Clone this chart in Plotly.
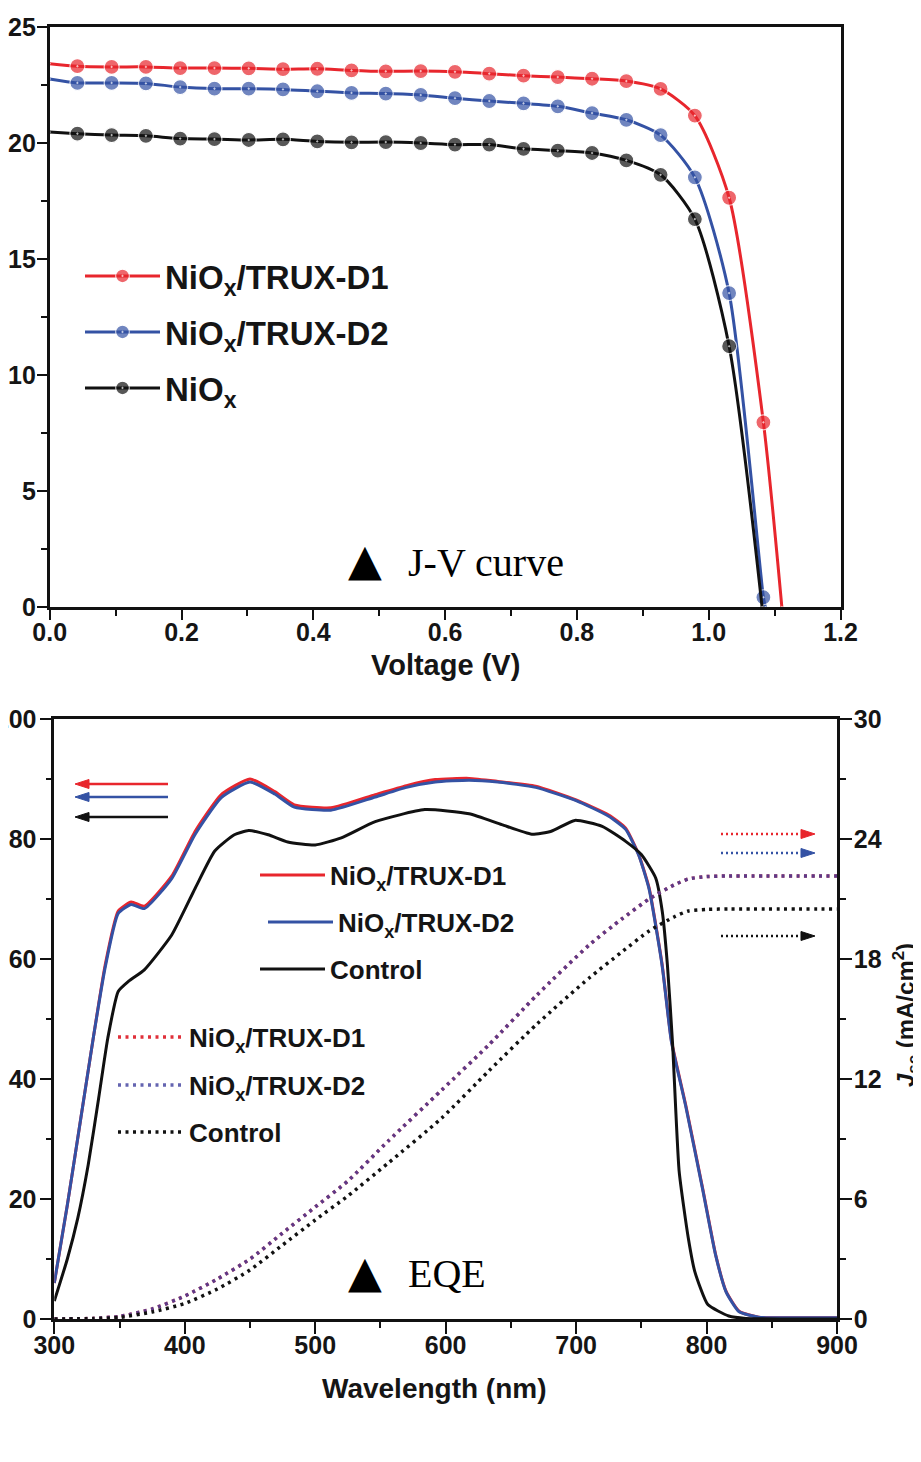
import plotly.graph_objects as go

W, H = 921, 1462

# ---------------- J-V curve data ----------------
JV_V_D1 = [0.000, 0.042, 0.094, 0.146, 0.198, 0.250, 0.302, 0.354, 0.406, 0.458, 0.510, 0.563,
           0.615, 0.667, 0.719, 0.771, 0.823, 0.875, 0.927, 0.979, 1.031, 1.083, 1.111]
JV_J_D1 = [23.42, 23.31, 23.28, 23.28, 23.23, 23.23, 23.22, 23.18, 23.20, 23.13, 23.09, 23.10,
           23.07, 22.99, 22.90, 22.84, 22.77, 22.67, 22.33, 21.18, 17.64, 7.96, 0.0]
JV_V_D2 = [0.000, 0.042, 0.094, 0.146, 0.198, 0.250, 0.302, 0.354, 0.406, 0.458, 0.510, 0.563,
           0.615, 0.667, 0.719, 0.771, 0.823, 0.875, 0.927, 0.979, 1.031, 1.083, 1.086]
JV_J_D2 = [22.76, 22.59, 22.59, 22.57, 22.41, 22.34, 22.34, 22.31, 22.23, 22.16, 22.13, 22.07,
           21.93, 21.81, 21.71, 21.58, 21.29, 21.00, 20.34, 18.52, 13.53, 0.42, 0.0]
JV_V_CTRL = [0.000, 0.042, 0.094, 0.146, 0.198, 0.250, 0.302, 0.354, 0.406, 0.458, 0.510, 0.563,
             0.615, 0.667, 0.719, 0.771, 0.823, 0.875, 0.927, 0.979, 1.031, 1.081]
JV_J_CTRL = [20.47, 20.40, 20.34, 20.31, 20.19, 20.17, 20.13, 20.16, 20.07, 20.03, 20.04, 20.00,
             19.93, 19.93, 19.75, 19.67, 19.57, 19.25, 18.63, 16.72, 11.24, 0.0]

# ---------------- EQE data ----------------
WL_D1 = [300, 310, 320, 330, 339, 349, 359, 369, 390, 408, 428, 450, 469, 484, 512, 546, 570, 592,
         618, 640, 669, 700, 725, 738, 748, 756, 766, 773, 784, 797, 807, 815, 825, 840, 870, 900]
EQE_D1 = [6, 19, 33, 47, 59, 68, 69.5, 68.8, 73.8, 81.3, 87.4, 90.0, 87.9, 85.7, 85.2, 87.4, 88.9, 89.9,
          90.1, 89.6, 88.8, 86.5, 84.0, 81.8, 77.4, 71.8, 59.0, 46.5, 35.7, 21.8, 10.7, 4.6, 1.3, 0.3, 0.2, 0.2]
WL_D2 = WL_D1
EQE_D2 = [6, 19, 33, 47, 58.6, 67.6, 69.1, 68.4, 73.4, 80.8, 86.9, 89.5, 87.5, 85.3, 84.8, 87.0, 88.6, 89.5,
          89.8, 89.5, 88.6, 86.4, 83.8, 81.6, 77.3, 71.6, 58.8, 46.3, 35.5, 21.6, 10.6, 4.5, 1.2, 0.3, 0.2, 0.2]
WL_CTRL = [300, 310, 318, 326, 334, 341, 349, 357, 369, 390, 408, 423, 438, 449, 464, 479, 500, 520, 546,
           584, 618, 643, 666, 681, 699, 720, 738, 750, 761, 766, 770, 774, 779, 786, 791, 801, 817, 830, 900]
EQE_CTRL = [3, 10, 16.8, 25.7, 36.8, 46.8, 54.6, 56.3, 58.2, 64, 71.8, 78, 80.7, 81.4, 80.7, 79.5, 79, 80.2, 82.9,
            84.9, 84.2, 82.4, 80.8, 81.3, 83.1, 82.1, 79.6, 77.4, 73.5, 68, 59, 45.7, 24.6, 13.5, 7.9, 2.4, 0.5, 0.1, 0]

# integrated Jsc (right axis)
WL_J = [300, 330, 350, 375, 400, 425, 450, 475, 500, 525, 556, 597, 633, 670, 710, 735, 756, 775, 786, 800, 817, 900]
JSC_D1 = [0, 0.03, 0.13, 0.5, 1.15, 2.0, 3.0, 4.3, 5.6, 6.9, 8.9, 11.45, 13.7, 16.2, 18.7, 20.0, 21.0, 21.7,
          22.0, 22.12, 22.15, 22.15]
JSC_D2 = JSC_D1
JSC_CTRL = [0, 0.02, 0.08, 0.35, 0.78, 1.5, 2.45, 3.7, 4.95, 6.15, 7.8, 10.05, 12.4, 14.75, 17.05, 18.35, 19.4,
            20.1, 20.4, 20.48, 20.5, 20.5]

NAMES_JV = ["NiO<sub>x</sub>/TRUX-D1", "NiO<sub>x</sub>/TRUX-D2", "NiO<sub>x</sub>"]
NAMES_EQE = ["NiO<sub>x</sub>/TRUX-D1", "NiO<sub>x</sub>/TRUX-D2", "Control"]

RED = "#e8262d"
BLUE = "#3452a4"
BLACK = "#111111"
FONT = "Liberation Sans, Arial, sans-serif"
SERIF = "Liberation Serif, Times New Roman, serif"


def px(x):
    return x / W


def py(y):
    return 1 - y / H


fig = go.Figure()

# ---- J-V traces ----
for vv, jj, col, name, lg in [
    (JV_V_D1, JV_J_D1, RED, NAMES_JV[0], "legend"),
    (JV_V_D2, JV_J_D2, BLUE, NAMES_JV[1], "legend2"),
    (JV_V_CTRL, JV_J_CTRL, BLACK, NAMES_JV[2], "legend3"),
]:
    sizes = [0] + [15] * (len(vv) - 2) + [0]
    fig.add_trace(go.Scatter(
        x=vv, y=jj, name=name, mode="lines+markers", legend=lg,
        line=dict(color=col, width=3, shape="spline", smoothing=0.7),
        marker=dict(size=sizes, color=col, symbol="circle-dot", line=dict(color="white", width=1.2)),
        cliponaxis=False, xaxis="x", yaxis="y"))

# ---- EQE traces ----
for ww, ee, col, name, lg in [
    (WL_D1, EQE_D1, RED, NAMES_EQE[0], "legend4"),
    (WL_D2, EQE_D2, BLUE, NAMES_EQE[1], "legend5"),
    (WL_CTRL, EQE_CTRL, BLACK, NAMES_EQE[2], "legend6"),
]:
    fig.add_trace(go.Scatter(
        x=ww, y=ee, name=name, mode="lines", legend=lg,
        line=dict(color=col, width=3, shape="spline", smoothing=0.5),
        xaxis="x2", yaxis="y2"))

# ---- Jsc traces ----
for ww, jj, col, name, lg, op in [
    (WL_J, JSC_D1, "#e0303a", NAMES_EQE[0], "legend7", 1.0),
    (WL_J, JSC_D2, "#3d3d9c", NAMES_EQE[1], "legend8", 0.8),
    (WL_J, JSC_CTRL, BLACK, NAMES_EQE[2], "legend9", 1.0),
]:
    fig.add_trace(go.Scatter(
        x=ww, y=jj, name=name, mode="lines", legend=lg, opacity=op,
        line=dict(color=col, width=3.5, dash="3px,4.5px", shape="spline", smoothing=0.6),
        xaxis="x2", yaxis="y3"))

tickfont = dict(family=FONT, size=25, color="#151515", weight="bold")
axcommon = dict(showline=True, linewidth=2.6, linecolor="#111", ticks="outside", tickwidth=2.4,
                tickcolor="#111", showgrid=False, zeroline=False, automargin=False, tickfont=tickfont)

legend_common = dict(bgcolor="rgba(0,0,0,0)", borderwidth=0, xanchor="left", yanchor="middle",
                     tracegroupgap=0)


def leg(x_left, y_center, size, itemwidth):
    d = dict(legend_common)
    d.update(x=px(x_left), y=py(y_center), itemwidth=itemwidth,
             font=dict(family=FONT, size=size, color="#151515", weight="bold"))
    return d


fig.update_layout(
    width=W, height=H, template="none",
    margin=dict(l=0, r=0, t=0, b=0),
    paper_bgcolor="white", plot_bgcolor="white",
    showlegend=True,
    xaxis=dict(domain=[px(41.7), px(832.5)], anchor="y", range=[0, 1.2], dtick=0.2, tick0=0,
               tickformat=".1f", ticklen=10, mirror=True,
               minor=dict(ticks="outside", dtick=0.1, tick0=0, ticklen=6, tickwidth=2.2, tickcolor="#111"),
               ticklabelstandoff=-9, **axcommon),
    yaxis=dict(domain=[py(599), py(19)], anchor="x", range=[0, 25], dtick=5, tick0=0, ticklen=10,
               mirror=True,
               minor=dict(ticks="outside", dtick=2.5, tick0=0, ticklen=6, tickwidth=2.2, tickcolor="#111"),
               ticklabelstandoff=-4, **axcommon),
    xaxis2=dict(domain=[px(46.3), px(829)], anchor="y2", range=[300, 900], dtick=100, tick0=300,
                ticklen=12, mirror=True,
                minor=dict(ticks="outside", dtick=50, tick0=300, ticklen=6, tickwidth=2.2, tickcolor="#111"),
                ticklabelstandoff=-10, **axcommon),
    yaxis2=dict(domain=[py(1311), py(711)], anchor="x2", range=[0, 100], dtick=20, tick0=0, ticklen=12,
                minor=dict(ticks="outside", dtick=10, tick0=0, ticklen=6, tickwidth=2.2, tickcolor="#111"),
                ticklabelstandoff=-2, **axcommon),
    yaxis3=dict(overlaying="y2", side="right", anchor="x2", range=[0, 30], dtick=6, tick0=0, ticklen=12,
                minor=dict(ticks="outside", dtick=3, tick0=0, ticklen=6, tickwidth=2.2, tickcolor="#111"),
                ticklabelstandoff=-3, **axcommon),
    legend=leg(72, 268, 33, 75),
    legend2=leg(72, 324, 33, 75),
    legend3=leg(72, 380, 33, 75),
    legend4=leg(247, 867, 26, 65),
    legend5=leg(255, 914, 26, 65),
    legend6=leg(247, 961, 26, 65),
    legend7=leg(105, 1029, 26, 66),
    legend8=leg(105, 1077, 26, 66),
    legend9=leg(105, 1124, 26, 66),
)

ann = []
# axis titles
ann.append(dict(text="Voltage (V)", x=px(437), y=py(657), xref="paper", yref="paper", showarrow=False,
                xanchor="center", yanchor="middle", font=dict(family=FONT, size=29, color="#151515", weight="bold")))
ann.append(dict(text="Wavelength (nm)", x=px(426), y=py(1380), xref="paper", yref="paper", showarrow=False,
                xanchor="center", yanchor="middle", font=dict(family=FONT, size=28, color="#151515", weight="bold")))
ann.append(dict(text="<i>J</i><sub>sc</sub> (mA/cm<sup>2</sup>)", x=px(898), y=py(1007), xref="paper",
                yref="paper", showarrow=False, textangle=-90, xanchor="center", yanchor="middle",
                font=dict(family=FONT, size=24, color="#151515", weight="bold")))
# panel labels
for ycen, label in [(562, "J-V curve"), (1273, "EQE")]:
    ann.append(dict(text="\u25B2", x=px(357), y=py(ycen - 10), xref="paper", yref="paper", showarrow=False,
                    xanchor="center", yanchor="middle", font=dict(family="DejaVu Sans", size=44, color="black")))
    ann.append(dict(text=label, x=px(398), y=py(ycen - 8), xref="paper", yref="paper", showarrow=False,
                    xanchor="left", yanchor="middle", font=dict(family=SERIF, size=40, color="black")))

shapes = []
# left-pointing solid arrows (EQE -> left axis)
for yv, col in [(776, RED), (789, BLUE), (809, BLACK)]:
    shapes.append(dict(type="line", xref="paper", yref="paper", x0=px(160), x1=px(78), y0=py(yv), y1=py(yv),
                       line=dict(color=col, width=2.5)))
    shapes.append(dict(type="path", xref="paper", yref="paper",
                       path="M {:.5f},{:.5f} L {:.5f},{:.5f} L {:.5f},{:.5f} Z".format(
                           px(67), py(yv), px(81), py(yv - 4.5), px(81), py(yv + 4.5)),
                       fillcolor=col, line=dict(color=col, width=1)))
# right-pointing dotted arrows (Jsc -> right axis)
for yv, col in [(826, RED), (845, BLUE), (928, BLACK)]:
    shapes.append(dict(type="line", xref="paper", yref="paper", x0=px(713), x1=px(795), y0=py(yv), y1=py(yv),
                       line=dict(color=col, width=2.5, dash="2px,3px")))
    shapes.append(dict(type="path", xref="paper", yref="paper",
                       path="M {:.5f},{:.5f} L {:.5f},{:.5f} L {:.5f},{:.5f} Z".format(
                           px(807), py(yv), px(793), py(yv - 4.5), px(793), py(yv + 4.5)),
                       fillcolor=col, line=dict(color=col, width=1)))

fig.update_layout(annotations=ann, shapes=shapes)

fig.write_html("out.html")
